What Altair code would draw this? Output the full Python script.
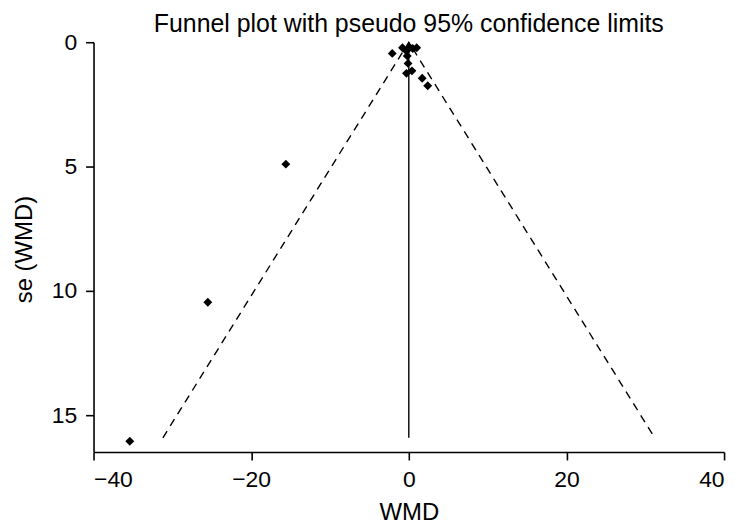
import altair as alt
import pandas as pd

# study points
wmd = [-2.1, -0.8, -0.3, 0.1, 0.5, 1.0, -0.2, -0.1, -0.3, 0.4, 1.7, 2.4, -15.6, -25.5, -35.4]
se = [0.45, 0.22, 0.35, 0.2, 0.25, 0.22, 0.55, 0.85, 1.25, 1.15, 1.45, 1.75, 4.9, 10.45, 16.04]

# pseudo 95% confidence limits and pooled estimate
funnel_x = [-31.2, 0.0, 31.2]
funnel_se = [15.9, 0.0, 15.9]
pooled_x = [0.0, 0.0]
pooled_se = [0.0, 15.9]

x_ticks = [-40, -20, 0, 20, 40]
y_ticks = [0, 5, 10, 15]

pts = pd.DataFrame({"wmd": wmd, "se": se})
fun = pd.DataFrame({"wmd": funnel_x, "se": funnel_se, "o": [0, 1, 2]})
pool = pd.DataFrame({"wmd": pooled_x, "se": pooled_se, "o": [0, 1]})

W, H = 634, 412
FONT = "Liberation Sans"

xs = alt.Scale(domain=[-40, 40], nice=False, zero=False)
ys = alt.Scale(domain=[0, 16.47], reverse=True, nice=False, zero=False)

x_axis = alt.Axis(values=x_ticks, title="WMD", titleY=68, titleBaseline="alphabetic",
                  labelPadding=9, format="d")
y_axis = alt.Axis(values=y_ticks, title="se (WMD)", titleX=-69, titleY=208,
                  titleAngle=-90, titleBaseline="middle", titleAlign="center",
                  labelPadding=9, format="d")

base_x = alt.X("wmd:Q", scale=xs, axis=x_axis)
base_y = alt.Y("se:Q", scale=ys, axis=y_axis)

funnel = alt.Chart(fun).mark_line(color="black", strokeWidth=1.4, strokeDash=[8, 6]).encode(
    x=base_x, y=base_y, order="o:Q")
pooled = alt.Chart(pool).mark_line(color="black", strokeWidth=1.4).encode(
    x=alt.X("wmd:Q", scale=xs), y=alt.Y("se:Q", scale=ys), order="o:Q")
points = alt.Chart(pts).mark_point(shape="diamond", filled=True, color="black",
                                   size=80, opacity=1).encode(
    x=alt.X("wmd:Q", scale=xs), y=alt.Y("se:Q", scale=ys))

chart = (funnel + pooled + points).properties(
    width=W, height=H,
    title=alt.TitleParams("Funnel plot with pseudo 95% confidence limits",
                          font=FONT, fontSize=25, fontWeight="normal",
                          color="black", offset=-6, anchor="middle"),
    autosize=alt.AutoSizeParams(type="none"),
    padding={"left": 86, "top": 33, "right": 14, "bottom": 72},
).configure_view(stroke=None).configure_axis(
    grid=False, domainColor="black", domainWidth=1.6, tickColor="black",
    tickWidth=1.6, tickSize=8, labelFont=FONT, labelFontSize=23,
    labelColor="black", titleFont=FONT, titleFontSize=24,
    titleFontWeight="normal", titleColor="black",
)

chart.save("out.html", embed_options={"renderer": "svg", "actions": False})
